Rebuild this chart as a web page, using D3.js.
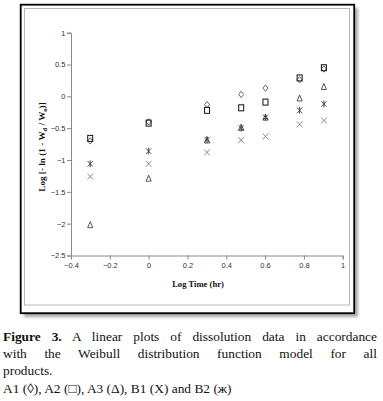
<!DOCTYPE html>
<html>
<head>
<meta charset="utf-8">
<script src="https://cdn.jsdelivr.net/npm/d3@7/dist/d3.min.js"></script>
<style>
  html, body { margin: 0; padding: 0; background: #fff; }
  #wrap { position: relative; width: 383px; height: 401px; overflow: hidden; }
  #cap { position: absolute; left: 3px; top: 328px; width: 374px;
         font-family: "Liberation Serif", "Times New Roman", serif; font-size: 13.4px;
         line-height: 17.2px; color: #111; }
  #cap .j { text-align: justify; text-align-last: justify; white-space: nowrap; }
  #cap .l { text-align: left; white-space: nowrap; }
</style>
</head>
<body>
<div id="wrap">
  <svg id="chart" width="383" height="401"></svg>
  <div id="cap">
    <div class="j"><b>Figure 3.</b> A linear plots of dissolution data in accordance</div>
    <div class="j">with the Weibull distribution function model for all</div>
    <div class="l">products.</div>
    <div class="l">A1 (◊), A2 (□), A3 (Δ), B1 (X) and B2 (ж)</div>
  </div>
</div>
<script>
// ---- data ----
const logTime = [-0.301, 0, 0.301, 0.477, 0.602, 0.778, 0.903];
const A1 = [-0.70, -0.40, -0.13, 0.03, 0.13, 0.26, 0.43];   // diamond
const A2 = [-0.66, -0.42, -0.22, -0.18, -0.09, 0.29, 0.45]; // square
const A3 = [-2.02, -1.29, -0.69, -0.49, -0.33, -0.03, 0.15]; // triangle
const B1 = [-1.26, -1.06, -0.88, -0.69, -0.63, -0.44, -0.38]; // X
const B2 = [-1.06, -0.86, -0.68, -0.50, -0.33, -0.22, -0.12]; // asterisk
const xTicks = [-0.4, -0.2, 0, 0.2, 0.4, 0.6, 0.8, 1];
const yTicks = [1, 0.5, 0, -0.5, -1, -1.5, -2, -2.5];

const svg = d3.select("#chart");

// frame shadow + borders
const defs = svg.append("defs");
defs.append("filter").attr("id", "blur").attr("x", "-10%").attr("y", "-10%")
  .attr("width", "120%").attr("height", "120%")
  .append("feGaussianBlur").attr("stdDeviation", 1.8);
svg.append("rect").attr("x", 24).attr("y", 8).attr("width", 334).attr("height", 309)
  .attr("fill", "#a8a8a8").attr("filter", "url(#blur)");
svg.append("rect").attr("x", 20.7).attr("y", 4.7).attr("width", 333.5).attr("height", 308.5)
  .attr("fill", "#fff").attr("stroke", "#000").attr("stroke-width", 1.8);
svg.append("rect").attr("x", 24.5).attr("y", 8.5).attr("width", 325).attr("height", 296.5)
  .attr("fill", "#fff").attr("stroke", "#b8b8b8").attr("stroke-width", 1);

const x = d3.scaleLinear().domain([-0.4, 1]).range([71, 342.7]);
const y = d3.scaleLinear().domain([-2.5, 1]).range([255.5, 32.7]);

const axisColor = "#8a8a8a";
const tickFont = '"Liberation Sans Narrow", "Liberation Sans", Arial, sans-serif';

// y axis
const gy = svg.append("g").attr("transform", `translate(${x(-0.4)},0)`)
  .call(d3.axisLeft(y).tickValues(yTicks).tickSize(4).tickFormat(d => d3.format("")(d)));
// x axis
const gx = svg.append("g").attr("transform", `translate(0,${y(-2.5)})`)
  .call(d3.axisBottom(x).tickValues(xTicks).tickSize(4).tickFormat(d => d3.format("")(d)));
[gx, gy].forEach(g => {
  g.select(".domain").attr("stroke", axisColor);
  g.selectAll(".tick line").attr("stroke", axisColor);
  g.selectAll(".tick text").attr("fill", "#333").style("font-family", tickFont).style("font-size", "7.5px");
});
gy.selectAll(".tick text").attr("x", -5.5);
gx.selectAll(".tick text").attr("y", 7.5);

// axis titles
const serif = '"Liberation Serif", "Times New Roman", serif';
svg.append("text").attr("x", 198).attr("y", 287).attr("text-anchor", "middle")
  .style("font-family", serif).style("font-size", "8.6px").style("font-weight", "bold")
  .attr("fill", "#111").text("Log Time (hr)");

const yt = svg.append("text").attr("transform", "translate(45,147) rotate(-90)")
  .attr("text-anchor", "middle").style("font-family", serif).style("font-size", "9.2px")
  .style("font-weight", "bold").attr("fill", "#111");
yt.append("tspan").text("Log [- ln (1 - W");
yt.append("tspan").attr("dy", 1.5).style("font-size", "6.5px").text("d");
yt.append("tspan").attr("dy", -1.5).text(" / W");
yt.append("tspan").attr("dy", 1.5).style("font-size", "6.5px").text("o");
yt.append("tspan").attr("dy", -1.5).text(")]");

// markers
function pts(arr) { return arr.map((v, i) => [x(logTime[i]), y(v)]); }
const mk = svg.append("g").attr("fill", "none");

// diamond A1
mk.selectAll("path.dia").data(pts(A1)).join("path").attr("class", "dia")
  .attr("d", d => `M${d[0]},${d[1]-3.2}L${d[0]+2.5},${d[1]}L${d[0]},${d[1]+3.2}L${d[0]-2.5},${d[1]}Z`)
  .attr("stroke", "#555").attr("stroke-width", 0.9);
// square A2
mk.selectAll("rect.sq").data(pts(A2)).join("rect").attr("class", "sq")
  .attr("x", d => d[0]-2.5).attr("y", d => d[1]-3).attr("width", 5).attr("height", 6)
  .attr("stroke", "#111").attr("stroke-width", 1);
// triangle A3
mk.selectAll("path.tri").data(pts(A3)).join("path").attr("class", "tri")
  .attr("d", d => `M${d[0]},${d[1]-3.3}L${d[0]+2.6},${d[1]+2.7}L${d[0]-2.6},${d[1]+2.7}Z`)
  .attr("stroke", "#444").attr("stroke-width", 0.9);
// X B1
mk.selectAll("path.xx").data(pts(B1)).join("path").attr("class", "xx")
  .attr("d", d => `M${d[0]-2.8},${d[1]-3}L${d[0]+2.8},${d[1]+3}M${d[0]+2.8},${d[1]-3}L${d[0]-2.8},${d[1]+3}`)
  .attr("stroke", "#808080").attr("stroke-width", 0.9);
// asterisk B2
mk.selectAll("path.ast").data(pts(B2)).join("path").attr("class", "ast")
  .attr("d", d => `M${d[0]-2.6},${d[1]-2.8}L${d[0]+2.6},${d[1]+2.8}M${d[0]+2.6},${d[1]-2.8}L${d[0]-2.6},${d[1]+2.8}M${d[0]},${d[1]-3.5}L${d[0]},${d[1]+3.5}`)
  .attr("stroke", "#3a3a3a").attr("stroke-width", 0.9);
</script>
</body>
</html>
